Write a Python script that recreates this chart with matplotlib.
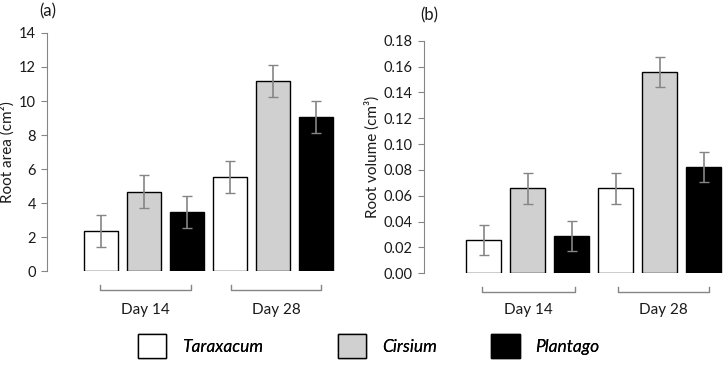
import matplotlib
matplotlib.use('Agg')
import matplotlib.pyplot as plt
from matplotlib.patches import Patch
import numpy as np

plt.rcParams['font.family'] = ['Lato', 'DejaVu Sans']

species = ['Taraxacum', 'Cirsium', 'Plantago']
days = ['Day 14', 'Day 28']
colours = ['white', '#d0d0d0', 'black']

# values ordered Day14 (T, C, P), Day28 (T, C, P)
area_mean = [2.37, 4.67, 3.47, 5.55, 11.16, 9.06]
area_err = [0.95, 0.97, 0.92, 0.95, 0.93, 0.95]
volume_mean = [0.0258, 0.0657, 0.0286, 0.0657, 0.1557, 0.0820]
volume_err = [0.0115, 0.0118, 0.0116, 0.0118, 0.0115, 0.0116]

grey = '#858585'
txt = '#1a1a1a'

fig = plt.figure(figsize=(7.24, 3.65), dpi=100)
ax_a = fig.add_axes([0.0649, 0.2575, 0.4116, 0.6521])
ax_b = fig.add_axes([0.5856, 0.2512, 0.4144, 0.6373])


def draw_panel(ax, means, errs, ylim, yticks, fmt, ylabel, xlim, brackets, day_y):
    x = np.arange(len(means))
    cols = colours * len(days)
    ax.bar(x, means, width=0.79, color=cols, edgecolor='black', linewidth=1.0,
           yerr=errs, error_kw=dict(ecolor=grey, elinewidth=1.2, capsize=3.5, capthick=1.0),
           zorder=2)
    ax.set_xlim(*xlim)
    ax.set_ylim(*ylim)
    ax.set_yticks(yticks)
    ax.set_yticklabels([fmt.format(v) for v in yticks], fontsize=10.5, color=txt)
    ax.set_xticks([])
    for s in ['top', 'right', 'bottom']:
        ax.spines[s].set_visible(False)
    ax.spines['left'].set_color(grey)
    ax.tick_params(axis='y', direction='out', length=4, color=grey, pad=4)
    ax.set_ylabel(ylabel, fontsize=11, color=txt)
    trans = ax.get_xaxis_transform()
    for (x0, x1), day in zip(brackets, days):
        ax.plot([x0, x0, x1, x1], [-0.058, -0.08, -0.08, -0.058], color=grey,
                lw=1.0, transform=trans, clip_on=False)
        ax.text((x0 + x1) / 2, day_y, day, transform=trans, ha='center', va='center',
                fontsize=11, color=txt)


draw_panel(ax_a, area_mean, area_err, (0, 14), np.arange(0, 15, 2), '{:g}',
           'Root area (cm²)', (-1.256, 5.67), [(-0.02, 2.08), (3.02, 5.12)], -0.164)
draw_panel(ax_b, volume_mean, volume_err, (0, 0.18), np.arange(0, 0.181, 0.02), '{:.2f}',
           'Root volume (cm³)', (-1.36, 5.46), [(-0.03, 2.07), (3.04, 5.13)], -0.159)
ax_a.yaxis.set_label_coords(-0.107, 0.5)
ax_b.yaxis.set_label_coords(-0.147, 0.5)

fig.text(0.0663, 0.968, '(a)', fontsize=12, ha='center', va='center', color=txt)
fig.text(0.5925, 0.958, '(b)', fontsize=12, ha='center', va='center', color=txt)

# one legend per species so each box sits where it does in the original
legend_x = [0.190, 0.4665, 0.678]
for name, c, lx in zip(species, colours, legend_x):
    h = Patch(facecolor=c, edgecolor='black', linewidth=1.0)
    fig.add_artist(fig.legend([h], [name], loc='center left', bbox_to_anchor=(lx, 0.052),
                              frameon=False, borderpad=0, borderaxespad=0,
                              handlelength=1.65, handleheight=1.7, handletextpad=0.9,
                              prop=dict(size=12.5, style='italic')))

fig.savefig('out.png', dpi=100)
